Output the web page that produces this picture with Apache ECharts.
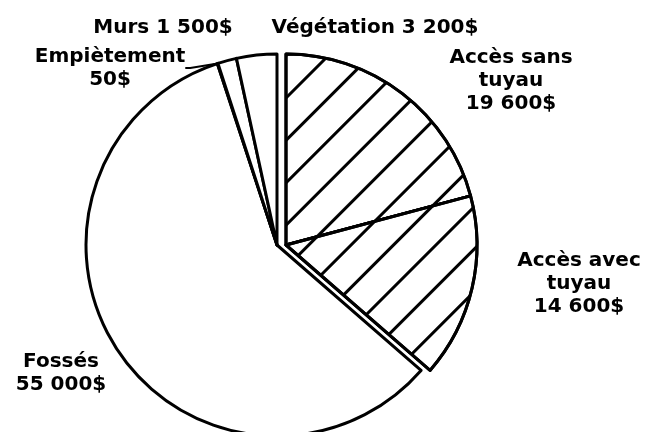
<!DOCTYPE html>
<html><head><meta charset="utf-8">
<script src="https://cdn.jsdelivr.net/npm/echarts@6/dist/echarts.min.js"></script>
<style>html,body{margin:0;padding:0;background:#fff}#c{width:646px;height:432px}</style>
</head><body><div id="c"></div>
<script>
// ---- data ----
const categories = ['Accès sans\ntuyau', 'Accès avec\ntuyau', 'Fossés', 'Empiètement', 'Murs', 'Végétation'];
const values = [19600, 14600, 55000, 50, 1500, 3200];
const hatchedGroup = [true, true, false, false, false, false];

// ---- styles / layout ----
const singleLine = { 'Murs': true, 'Végétation': true };
const labelPos = {
  'Accès sans\ntuyau': [511, 81],
  'Accès avec\ntuyau': [579, 284],
  'Fossés': [61, 373],
  'Empiètement': [110, 68],
  'Murs': [163, 28],
  'Végétation': [375, 28]
};
const R = 191;
const mainCenter = [277, 245];
const explodedCenter = [286, 245];
const FONT = 'DejaVu Sans';

function fmt(v) {
  return String(v).replace(/\B(?=(\d{3})+(?!\d))/g, ' ') + '$';
}

function buildData(showHatched) {
  return categories.map((name, i) => {
    const visible = hatchedGroup[i] === showHatched;
    const item = { name: name, value: values[i] };
    if (!visible) {
      item.itemStyle = { color: 'rgba(0,0,0,0)', borderWidth: 0 };
      item.label = { show: false };
      item.labelLine = { show: false };
    } else {
      item.itemStyle = { color: '#fff', borderColor: '#000', borderWidth: 3 };
      if (hatchedGroup[i]) {
        item.itemStyle.decal = {
          symbol: 'rect', symbolSize: 1,
          dashArrayX: [1, 0], dashArrayY: [3, 27],
          rotation: -Math.PI / 4, color: '#000'
        };
      }
      item.labelLine = { show: name === 'Empiètement', lineStyle: { color: '#000', width: 2 } };
    }
    return item;
  });
}

function labelLayout(params) {
  const p = labelPos[categories[params.dataIndex]];
  return { x: p[0], y: p[1], align: 'center', verticalAlign: 'middle' };
}

const labelStyle = {
  show: true,
  position: 'outside',
  fontFamily: FONT,
  fontSize: 20,
  fontWeight: 'bold',
  color: '#000',
  lineHeight: 23,
  align: 'center',
  formatter: (p) => p.name + (singleLine[p.name] ? ' ' : '\n') + fmt(p.value)
};

function series(center, showHatched) {
  return {
    type: 'pie',
    center: center,
    radius: R,
    startAngle: 90,
    clockwise: true,
    avoidLabelOverlap: false,
    minShowLabelAngle: 0,
    silent: true,
    animation: false,
    emphasis: { disabled: true },
    label: labelStyle,
    labelLine: { show: false, length: 5, length2: 5 },
    labelLayout: labelLayout,
    data: buildData(showHatched)
  };
}

const chart = echarts.init(document.getElementById('c'), null, { renderer: 'canvas' });
chart.setOption({
  backgroundColor: '#fff',
  animation: false,
  series: [series(mainCenter, false), series(explodedCenter, true)]
});
</script>
</body></html>
